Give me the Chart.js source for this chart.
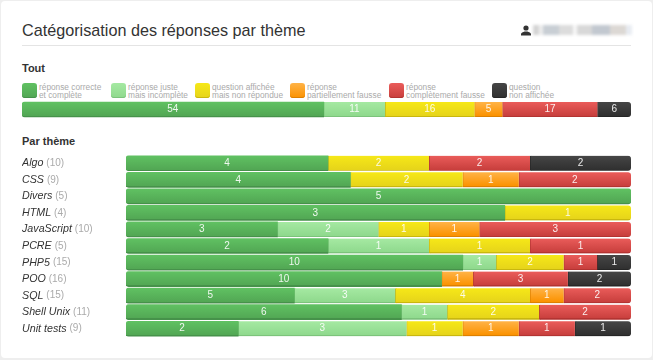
<!DOCTYPE html>
<html lang="fr">
<head>
<meta charset="utf-8">
<title>Catégorisation des réponses par thème</title>
<script src="https://cdn.jsdelivr.net/npm/chart.js@4"></script>
<style>
    html, body { margin: 0; padding: 0; background: #eeeeee; }
    body { width: 653px; height: 360px; overflow: hidden; position: relative; font-family: "Liberation Sans", Arial, sans-serif; color: #333; }
    #card { position: absolute; left: 1px; top: 1px; width: 651px; height: 357px; background: #fff; border-radius: 4px; }
    h1 { position: absolute; left: 22px; top: 20px; margin: 0; font-size: 16.2px; line-height: 20px; font-weight: normal; color: #333; white-space: nowrap; }
    #rule { position: absolute; left: 22px; top: 45px; width: 609px; height: 1px; background: #e4e4e4; }
    #user { position: absolute; left: 521px; top: 25px; }
    #name { position: absolute; left: 533px; top: 25px; width: 99px; height: 10px; filter: blur(1.5px);
            background: linear-gradient(90deg, #d4d4d4 0 6%, #eeeeee 6% 10%, #c8ced4 10% 26%, #dcdcdc 26% 40%, #f8f8f8 40% 44%, #d8d8d8 44% 60%, #c2c8d0 60% 78%, #dcd8d4 78% 94%, #e8ecf2 94%); }
    h2 { position: absolute; left: 22px; margin: 0; font-size: 11px; line-height: 13px; font-weight: bold; color: #333; }
    #legend { position: absolute; left: 22px; top: 83px; display: flex; }
    .item { display: flex; }
    .item:nth-child(1) { width: 89px; }
    .item:nth-child(2) { width: 84px; }
    .item:nth-child(3) { width: 95px; }
    .item:nth-child(4) { width: 99px; }
    .item:nth-child(5) { width: 103px; }
    .swatch { width: 15px; height: 15px; border-radius: 3px; margin-right: 2px; }
    .text { font-size: 8.3px; line-height: 8px; color: #aaa; white-space: nowrap; }
    canvas { position: absolute; left: 22px; }
</style>
</head>
<body>
<div id="card"></div>
<h1>Catégorisation des réponses par thème</h1>
<svg id="user" width="10" height="11" viewBox="0 0 10 11"><circle cx="5" cy="3" r="2.6" fill="#333"/><path d="M0 10.5V9c0-1.4 2-2 3.6-2.6h2.8C8 7 10 7.6 10 9v1.5z" fill="#333"/></svg>
<div id="name"></div>
<div id="rule"></div>
<h2 style="top:62px">Tout</h2>
<div id="legend"></div>
<canvas id="totalChart" style="top:101px"></canvas>
<h2 style="top:135px">Par thème</h2>
<canvas id="themeChart" style="top:155px"></canvas>

<script>
// -------------------- Data --------------------
const answerTypes = [
    ["réponse correcte", "et complète"],
    ["réponse juste", "mais incomplète"],
    ["question affichée", "mais non répondue"],
    ["réponse", "partiellement fausse"],
    ["réponse", "complètement fausse"],
    ["question", "non affichée"]
];
const totalLabel = ["Tout"];
const totalValues = [54, 11, 16, 5, 17, 6];

const themes = ["Algo", "CSS", "Divers", "HTML", "JavaScript", "PCRE", "PHP5", "POO", "SQL", "Shell Unix", "Unit tests"];
const themeCounts = [10, 9, 5, 4, 10, 5, 15, 16, 15, 11, 9];
const correct    = [4, 4, 5, 3, 3, 2, 10, 10, 5, 6, 2];
const partial    = [0, 0, 0, 0, 2, 1, 1, 0, 3, 1, 3];
const unanswered = [2, 2, 0, 1, 1, 1, 2, 0, 4, 2, 1];
const halfWrong  = [0, 1, 0, 0, 1, 0, 0, 1, 1, 0, 1];
const wrong      = [2, 2, 0, 0, 3, 1, 1, 3, 2, 2, 1];
const notShown   = [2, 0, 0, 0, 0, 0, 1, 2, 0, 0, 1];

// top, bottom, edge
const shades = [
    ["#60c162", "#52a754", "#46924a"],
    ["#a5e9a2", "#8fd98d", "#7cc37b"],
    ["#f6e818", "#e6d41a", "#c9b70e"],
    ["#ffb347", "#fb9200", "#dd8000"],
    ["#ea5c5a", "#c83f3d", "#b33432"],
    ["#464646", "#303030", "#262626"]
];

// -------------------- Legend --------------------
const legend = document.getElementById("legend");
answerTypes.forEach((lines, i) => {
    const item = document.createElement("div");
    item.className = "item";
    item.innerHTML = `<div class="swatch" style="background:linear-gradient(${shades[i][0]},${shades[i][1]});box-shadow:inset 0 -1px ${shades[i][2]}"></div>
        <div class="text">${lines[0]}<br>${lines[1]}</div>`;
    legend.appendChild(item);
});

// -------------------- Helpers --------------------
function barFill(ctx, i) {
    const chart = ctx.chart;
    const yScale = chart.scales.y;
    if (!chart.chartArea || !yScale || ctx.dataIndex === undefined) return shades[i][0];
    const y = yScale.getPixelForValue(ctx.dataIndex) - 7.5;
    if (!isFinite(y)) return shades[i][0];
    const g = chart.ctx.createLinearGradient(0, y, 0, y + 15);
    g.addColorStop(0, shades[i][0]);
    g.addColorStop(0.92, shades[i][1]);
    g.addColorStop(0.92, shades[i][2]);
    g.addColorStop(1, shades[i][2]);
    return g;
}

function firstInRow(ctx, rows) {
    return rows.findIndex(s => s[ctx.dataIndex] > 0) === ctx.datasetIndex;
}

function barRadius(ctx, rows) {
    const row = rows.map(s => s[ctx.dataIndex]);
    const last = row.length - 1 - [...row].reverse().findIndex(v => v > 0);
    const l = firstInRow(ctx, rows) ? 3 : 0;
    const r = ctx.datasetIndex === last ? 3 : 0;
    return { topLeft: l, bottomLeft: l, topRight: r, bottomRight: r };
}

const valueLabels = {
    id: "valueLabels",
    afterDatasetsDraw(chart, args, opts) {
        const c = chart.ctx;
        c.save();
        c.font = "10px 'Liberation Sans'";
        c.textAlign = "center";
        c.textBaseline = "middle";
        c.fillStyle = "rgba(255,255,255,0.9)";
        opts.rows.forEach((series, d) => {
            chart.getDatasetMeta(d).data.forEach((bar, i) => {
                if (series[i] > 0) c.fillText(series[i], (bar.base + bar.x) / 2, bar.y);
            });
        });
        c.restore();
    }
};

const themeLabels = {
    id: "themeLabels",
    afterDraw(chart, args, opts) {
        if (!opts.names) return;
        const c = chart.ctx;
        c.save();
        c.textBaseline = "middle";
        opts.names.forEach((name, i) => {
            const y = chart.scales.y.getPixelForValue(i);
            c.font = "italic 10.7px 'Liberation Sans'";
            c.fillStyle = "#333";
            c.fillText(name, 0, y);
            const w = c.measureText(name + " ").width;
            c.font = "10px 'Liberation Sans'";
            c.fillStyle = "#aaa";
            c.fillText("(" + opts.counts[i] + ")", w, y);
        });
        c.restore();
    }
};

function drawStack(id, labels, rows, left, extra) {
    const canvas = document.getElementById(id);
    // each row is scaled to its own total so all bars fill the width
    const rowTotal = labels.map((_, i) => rows.reduce((sum, s) => sum + s[i], 0));
    return new Chart(canvas, {
        type: "bar",
        data: {
            labels,
            datasets: rows.map((series, d) => ({
                label: answerTypes[d].join(" "),
                data: series.map((v, i) => v > 0 ? v / rowTotal[i] * 100 : null),
                backgroundColor: ctx => barFill(ctx, d),
                borderRadius: ctx => barRadius(ctx, rows),
                borderSkipped: false,
                borderColor: shades[d][2],
                borderWidth: ctx => ({ left: firstInRow(ctx, rows) ? 0 : 1, right: 0, top: 0, bottom: 0 }),
                barThickness: 15
            }))
        },
        options: {
            indexAxis: "y",
            responsive: false,
            animation: false,
            layout: { padding: { left } },
            scales: {
                x: { stacked: true, display: false, min: 0, max: 100 },
                y: { stacked: true, display: false }
            },
            plugins: {
                legend: { display: false },
                tooltip: { enabled: false },
                valueLabels: { rows },
                themeLabels: extra || {}
            }
        },
        plugins: [valueLabels, themeLabels]
    });
}

// fixed canvas sizes, window is 653x360
document.getElementById("totalChart").width = 609;
document.getElementById("totalChart").height = 17;
document.getElementById("themeChart").width = 609;
document.getElementById("themeChart").height = 182;

// -------------------- Charts --------------------
drawStack("totalChart", totalLabel, totalValues.map(v => [v]), 0);
drawStack("themeChart", themes, [correct, partial, unanswered, halfWrong, wrong, notShown], 104,
    { names: themes, counts: themeCounts });
</script>
</body>
</html>
